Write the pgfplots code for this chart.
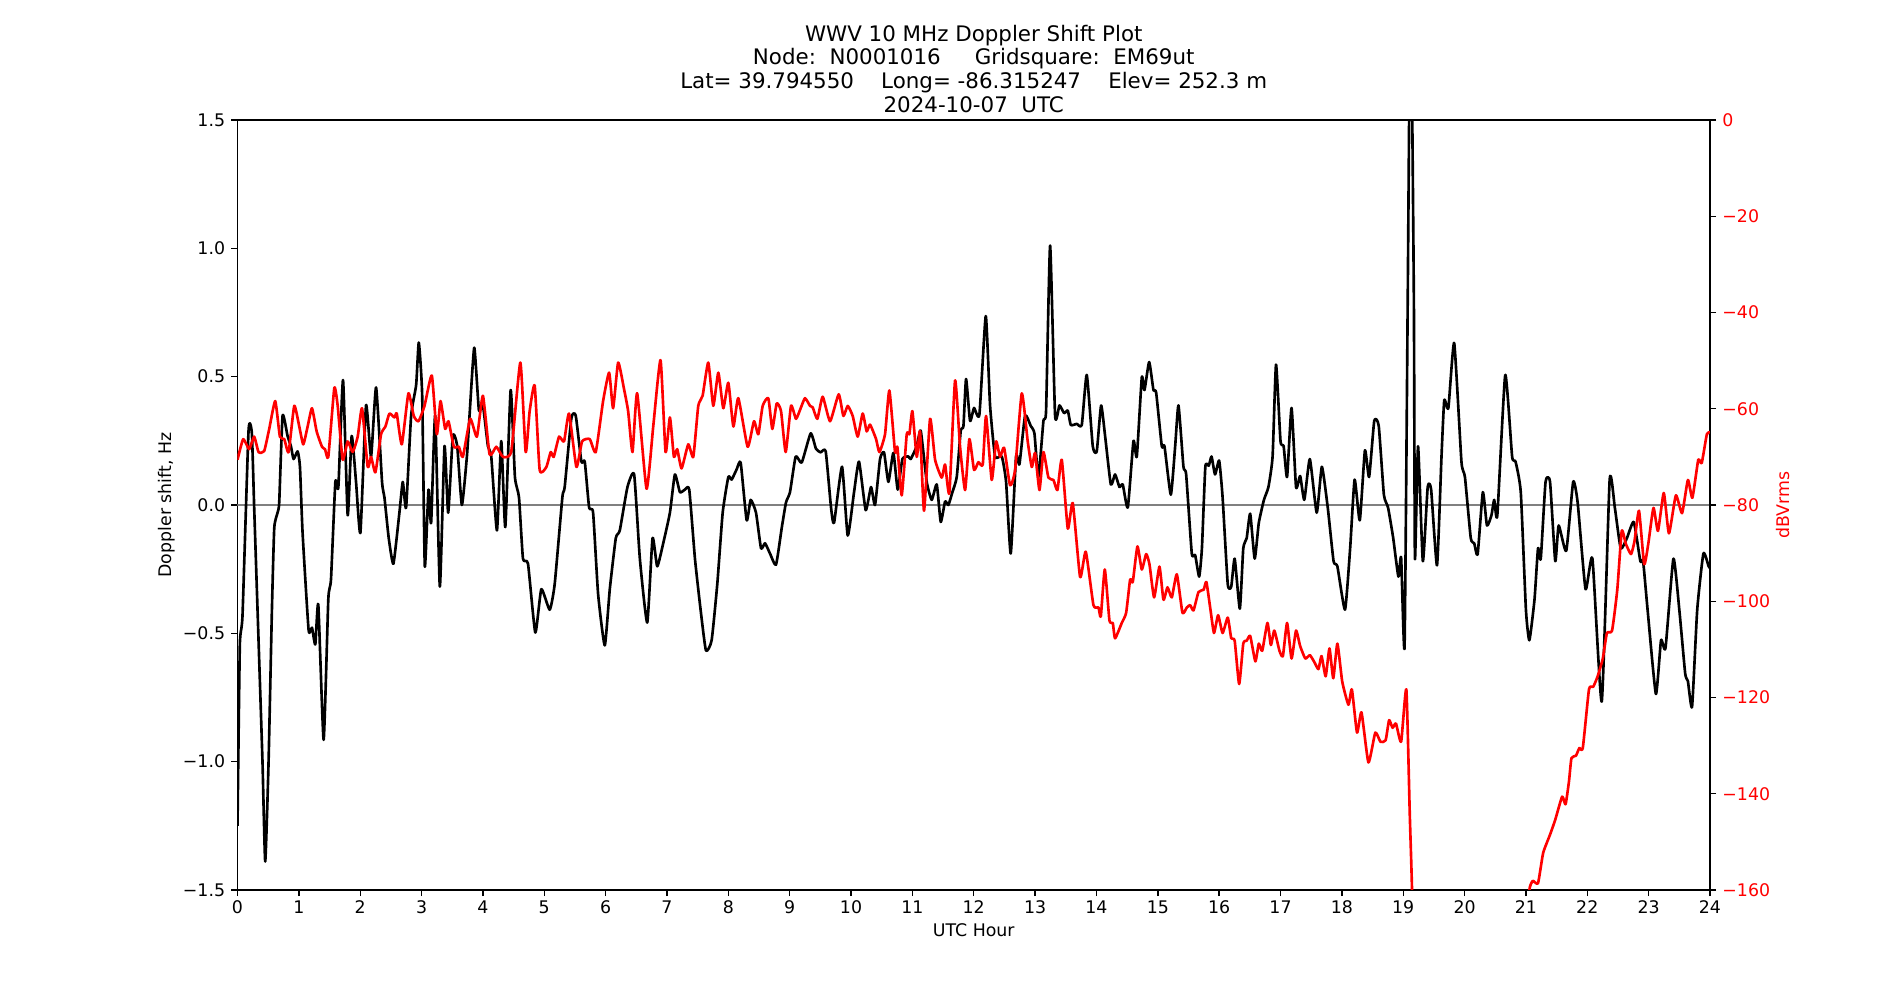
\documentclass[border=0pt]{standalone}
\usepackage{fontspec}
\setmainfont{DejaVu Sans}
\usepackage{pgfplots}
\usepackage{pgfplotstable}
\pgfplotsset{compat=1.18}

% Doppler shift (Hz) against UTC hour
\pgfplotstableread{
h v
0.000 -1.25
0.038 -0.547
0.082 -0.428
0.180 0.289
0.234 0.279
0.272 -0.010
0.354 -0.607
0.408 -1.005
0.452 -1.389
0.506 -1.005
0.561 -0.408
0.599 -0.090
0.653 -0.030
0.680 0.010
0.735 0.348
0.816 0.269
0.871 0.229
0.914 0.179
0.980 0.209
1.018 0.149
1.061 -0.109
1.159 -0.487
1.214 -0.478
1.268 -0.543
1.317 -0.388
1.404 -0.915
1.480 -0.368
1.524 -0.289
1.595 0.090
1.644 0.070
1.720 0.487
1.796 -0.040
1.861 0.269
1.932 0.090
2.003 -0.109
2.095 0.388
2.177 0.189
2.259 0.458
2.356 0.090
2.395 0.030
2.465 -0.129
2.541 -0.229
2.639 -0.030
2.694 0.090
2.748 -0.010
2.830 0.348
2.912 0.468
2.955 0.633
3.010 0.428
3.053 -0.239
3.113 0.060
3.156 -0.070
3.222 0.348
3.298 -0.318
3.374 0.229
3.434 -0.030
3.510 0.269
3.581 0.229
3.657 0.000
3.739 0.189
3.782 0.348
3.859 0.613
3.935 0.368
4.000 0.388
4.082 0.229
4.136 0.189
4.229 -0.099
4.299 0.249
4.365 -0.086
4.452 0.448
4.522 0.109
4.588 0.030
4.653 -0.209
4.735 -0.229
4.854 -0.497
4.952 -0.328
5.088 -0.408
5.170 -0.308
5.295 0.030
5.333 0.070
5.442 0.338
5.513 0.348
5.605 0.169
5.660 0.169
5.731 -0.010
5.796 -0.030
5.878 -0.348
5.986 -0.547
6.068 -0.328
6.166 -0.129
6.231 -0.099
6.356 0.070
6.465 0.119
6.558 -0.209
6.678 -0.458
6.765 -0.129
6.841 -0.239
6.939 -0.149
7.048 -0.030
7.129 0.119
7.211 0.050
7.293 0.060
7.363 0.060
7.456 -0.209
7.548 -0.408
7.635 -0.567
7.728 -0.527
7.820 -0.308
7.908 -0.030
8.000 0.109
8.054 0.099
8.136 0.139
8.201 0.165
8.299 -0.060
8.364 0.020
8.451 -0.030
8.533 -0.169
8.598 -0.149
8.679 -0.189
8.777 -0.233
8.870 -0.090
8.940 0.010
9.005 0.050
9.098 0.189
9.196 0.165
9.342 0.279
9.429 0.219
9.505 0.205
9.587 0.209
9.674 -0.010
9.723 -0.070
9.853 0.149
9.946 -0.119
10.049 0.050
10.130 0.169
10.239 -0.020
10.326 0.070
10.391 0.000
10.473 0.179
10.538 0.205
10.609 0.090
10.690 0.203
10.761 0.060
10.837 0.179
10.935 0.189
10.973 0.179
11.071 0.229
11.136 0.289
11.234 0.090
11.315 0.020
11.397 0.080
11.462 -0.066
11.533 0.014
11.587 0.000
11.652 0.050
11.723 0.109
11.788 0.289
11.832 0.308
11.875 0.491
11.940 0.328
12.005 0.378
12.092 0.352
12.196 0.736
12.266 0.388
12.348 0.189
12.457 0.189
12.527 0.090
12.603 -0.189
12.690 0.189
12.745 0.159
12.837 0.348
12.929 0.308
12.989 0.279
13.054 0.109
13.136 0.328
13.179 0.368
13.245 1.011
13.326 0.348
13.397 0.388
13.473 0.358
13.533 0.368
13.582 0.312
13.679 0.316
13.761 0.312
13.842 0.507
13.940 0.229
14.005 0.209
14.076 0.388
14.141 0.269
14.234 0.080
14.304 0.119
14.375 0.070
14.429 0.080
14.511 -0.010
14.603 0.249
14.658 0.189
14.739 0.497
14.783 0.448
14.859 0.557
14.929 0.448
14.973 0.438
15.065 0.229
15.109 0.229
15.212 0.040
15.283 0.229
15.337 0.388
15.418 0.149
15.462 0.119
15.554 -0.189
15.609 -0.195
15.674 -0.279
15.719 -0.169
15.775 0.149
15.831 0.153
15.876 0.189
15.933 0.119
16.000 0.173
16.056 0.030
16.140 -0.308
16.197 -0.318
16.253 -0.209
16.337 -0.404
16.393 -0.169
16.449 -0.129
16.506 -0.034
16.579 -0.209
16.646 -0.070
16.730 0.020
16.803 0.070
16.871 0.189
16.927 0.547
17.000 0.249
17.051 0.229
17.107 0.109
17.180 0.378
17.253 0.070
17.320 0.113
17.388 0.020
17.478 0.179
17.590 -0.030
17.674 0.149
17.770 -0.010
17.865 -0.219
17.927 -0.239
18.051 -0.408
18.135 -0.169
18.208 0.099
18.292 -0.060
18.376 0.213
18.444 0.109
18.528 0.328
18.601 0.308
18.685 0.040
18.753 -0.010
18.837 -0.129
18.921 -0.279
18.966 -0.205
19.022 -0.551
19.073 0.786
19.107 1.800
19.135 1.800
19.174 0.786
19.191 -0.209
19.242 0.229
19.320 -0.219
19.399 0.070
19.455 0.060
19.551 -0.235
19.624 0.189
19.669 0.408
19.736 0.378
19.831 0.631
19.949 0.169
20.006 0.109
20.101 -0.129
20.157 -0.149
20.213 -0.193
20.298 0.050
20.365 -0.080
20.438 -0.040
20.483 0.020
20.534 -0.040
20.663 0.507
20.775 0.189
20.831 0.169
20.916 0.050
21.000 -0.408
21.056 -0.527
21.140 -0.368
21.197 -0.169
21.242 -0.209
21.320 0.090
21.393 0.090
21.478 -0.219
21.534 -0.080
21.657 -0.179
21.770 0.090
21.843 0.010
21.972 -0.328
22.084 -0.209
22.236 -0.766
22.365 0.099
22.449 -0.010
22.545 -0.169
22.646 -0.129
22.758 -0.066
22.865 -0.219
22.910 -0.219
22.983 -0.408
23.118 -0.736
23.202 -0.527
23.275 -0.557
23.404 -0.209
23.500 -0.408
23.596 -0.657
23.640 -0.686
23.708 -0.786
23.792 -0.408
23.893 -0.189
23.978 -0.239
24.000 -0.245
}\doppler

% Received signal level (dBVrms) against UTC hour
\pgfplotstableread{
h db
0.000 -70.6
0.093 -66.3
0.190 -68.4
0.272 -65.8
0.343 -69.0
0.435 -68.8
0.517 -64.2
0.615 -58.4
0.691 -65.8
0.762 -66.3
0.833 -69.0
0.925 -59.4
1.007 -63.7
1.072 -67.4
1.143 -63.7
1.214 -59.9
1.290 -64.7
1.377 -67.9
1.426 -68.4
1.480 -70.0
1.578 -55.7
1.633 -59.4
1.714 -70.6
1.796 -66.8
1.878 -69.0
1.959 -65.8
2.030 -59.9
2.122 -72.1
2.177 -70.0
2.248 -73.2
2.340 -65.3
2.411 -63.7
2.476 -61.0
2.558 -61.8
2.596 -61.0
2.678 -67.4
2.786 -56.8
2.873 -61.5
2.950 -62.6
3.048 -59.4
3.167 -53.1
3.249 -65.3
3.309 -58.4
3.385 -64.2
3.439 -62.6
3.527 -67.9
3.608 -67.9
3.673 -70.0
3.793 -62.1
3.902 -65.8
4.000 -57.3
4.109 -69.5
4.218 -67.9
4.327 -70.0
4.463 -68.8
4.610 -50.4
4.697 -69.0
4.762 -60.5
4.844 -55.2
4.925 -72.7
5.034 -72.1
5.105 -69.0
5.154 -70.0
5.241 -65.8
5.322 -66.8
5.404 -61.0
5.524 -72.1
5.616 -66.8
5.741 -66.3
5.839 -69.0
5.959 -58.4
6.057 -52.5
6.122 -59.9
6.204 -50.4
6.297 -55.7
6.367 -60.5
6.438 -69.0
6.514 -56.8
6.667 -76.6
6.776 -63.7
6.895 -49.9
6.977 -69.0
7.048 -61.8
7.113 -70.0
7.167 -68.4
7.238 -72.4
7.347 -67.4
7.429 -70.0
7.510 -59.4
7.581 -57.3
7.673 -50.4
7.755 -59.4
7.837 -52.5
7.918 -59.9
8.000 -54.6
8.082 -63.7
8.163 -57.8
8.315 -67.9
8.418 -62.6
8.489 -65.3
8.560 -59.4
8.652 -57.8
8.717 -64.2
8.788 -58.9
8.859 -60.5
8.935 -69.0
9.022 -59.4
9.103 -62.1
9.179 -59.9
9.250 -57.8
9.332 -59.4
9.375 -59.7
9.451 -62.1
9.538 -57.5
9.658 -62.6
9.799 -57.0
9.875 -61.5
9.946 -59.4
10.027 -61.5
10.109 -65.8
10.190 -61.0
10.255 -64.7
10.310 -63.3
10.408 -66.3
10.462 -69.0
10.554 -65.3
10.625 -56.2
10.717 -69.0
10.755 -67.9
10.826 -78.0
10.908 -65.3
10.951 -65.3
11.000 -60.5
11.071 -70.0
11.125 -64.7
11.190 -81.2
11.288 -62.1
11.370 -70.6
11.478 -74.3
11.533 -71.6
11.603 -77.5
11.696 -54.1
11.777 -67.9
11.859 -76.9
11.929 -66.3
12.005 -72.7
12.076 -71.1
12.147 -71.6
12.201 -61.5
12.293 -74.8
12.364 -66.8
12.429 -70.0
12.495 -68.1
12.592 -75.9
12.674 -72.7
12.783 -56.8
12.880 -66.8
12.946 -72.1
13.000 -69.2
13.071 -76.9
13.136 -69.0
13.217 -74.3
13.299 -74.8
13.364 -76.9
13.435 -70.6
13.533 -84.9
13.614 -79.6
13.734 -95.0
13.826 -89.7
13.951 -100.8
14.033 -101.3
14.071 -103.2
14.136 -93.4
14.212 -104.0
14.266 -104.5
14.304 -107.7
14.413 -104.5
14.484 -102.4
14.549 -95.5
14.592 -96.0
14.668 -88.6
14.739 -93.4
14.810 -90.2
14.864 -92.3
14.940 -99.2
15.027 -92.8
15.092 -99.7
15.158 -97.1
15.228 -99.2
15.310 -94.4
15.402 -102.4
15.473 -101.3
15.527 -100.8
15.582 -101.9
15.663 -98.1
15.747 -97.6
15.792 -96.0
15.860 -101.9
15.916 -106.6
15.983 -102.9
16.056 -106.6
16.140 -103.4
16.197 -107.7
16.253 -108.2
16.326 -117.2
16.393 -108.8
16.449 -108.2
16.506 -107.2
16.590 -112.5
16.646 -108.8
16.702 -110.3
16.787 -104.5
16.843 -109.1
16.899 -106.1
16.983 -110.3
17.039 -111.4
17.107 -104.5
17.180 -111.9
17.253 -106.1
17.320 -109.3
17.404 -111.9
17.478 -111.2
17.545 -112.5
17.618 -114.1
17.669 -111.4
17.736 -115.6
17.798 -109.8
17.860 -116.0
17.927 -108.8
18.006 -116.7
18.107 -121.5
18.163 -118.3
18.247 -127.3
18.320 -123.1
18.433 -133.5
18.545 -127.3
18.629 -129.2
18.713 -128.9
18.770 -124.7
18.826 -126.3
18.882 -125.4
18.966 -129.2
19.051 -118.3
19.107 -144.3
19.146 -161.3
19.200 -200.0
20.950 -200.0
21.030 -170.0
21.056 -160.0
21.112 -158.1
21.197 -158.6
21.281 -152.3
21.393 -148.5
21.478 -145.4
21.590 -140.6
21.646 -142.2
21.702 -137.4
21.742 -132.6
21.815 -132.1
21.871 -130.5
21.927 -130.5
22.028 -118.3
22.096 -117.8
22.169 -115.6
22.253 -111.9
22.320 -106.6
22.404 -106.1
22.489 -97.6
22.562 -85.4
22.629 -88.1
22.713 -90.2
22.770 -87.5
22.843 -81.2
22.927 -92.3
22.994 -88.1
23.079 -80.6
23.152 -85.4
23.247 -77.5
23.331 -85.9
23.444 -78.0
23.545 -81.7
23.640 -74.8
23.713 -78.5
23.809 -70.6
23.865 -71.3
23.949 -65.3
24.000 -64.9
}\level

\definecolor{zeroline}{RGB}{128,128,128}

\pgfplotsset{
  frame/.style={
    scale only axis, width=1060.2pt, height=554.4pt,
    at={(0,0)}, anchor=south west,
    xmin=0, xmax=24,
    axis line style={line width=1pt, black},
    tick align=outside, major tick length=4.375pt,
    every tick/.style={line width=1pt, black},
    tick label style={font=\fontsize{12.5}{15}\selectfont},
    label style={font=\fontsize{12.5}{15}\selectfont},
  }
}

\begin{document}
\begin{tikzpicture}
\useasboundingbox (-171pt,-79.2pt) rectangle (1197pt,640.8pt);

\begin{axis}[
  frame, name=main,
  ymin=-1.5, ymax=1.5,
  xtick={0,1,...,24},
  xticklabels={0,1,2,3,4,5,6,7,8,9,10,11,12,13,14,15,16,17,18,19,20,21,22,23,24},
  ytick={-1.5,-1,-0.5,0,0.5,1,1.5},
  yticklabels={−1.5,−1.0,−0.5,0.0,0.5,1.0,1.5},
  xtick pos=left, ytick pos=left,
  xticklabel style={anchor=base, inner sep=0pt, yshift=-12.4pt},
  yticklabel style={anchor=base east, inner sep=0pt, xshift=-4.375pt, yshift=-4.56pt},
  xlabel={UTC Hour},
  xlabel style={at={(axis description cs:0.5,-0.0606)}, anchor=base},
  ylabel={Doppler shift, Hz},
  ylabel style={at={(axis description cs:-0.0448,0.5)}, anchor=base, rotate=0},
]
\addplot[zeroline, line width=0.9pt, forget plot] coordinates {(0,0) (24,0)};
\addplot[black, line width=1.9pt, line join=round, smooth, tension=0.3] table[x=h, y=v] {\doppler};
\end{axis}

\begin{axis}[
  frame,
  ymin=-160, ymax=0,
  axis x line=none,
  axis y line*=right,
  ytick={-160,-140,...,0},
  yticklabels={−160,−140,−120,−100,−80,−60,−40,−20,0},
  ytick pos=right, yticklabel pos=right,
  yticklabel style={red, anchor=base west, inner sep=0pt, xshift=4.375pt, yshift=-4.56pt},
  ylabel={dBVrms},
  ylabel style={red, at={(axis description cs:1.0543,0.5)}, anchor=base, rotate=0},
]
\addplot[red, line width=1.9pt, line join=round, smooth, tension=0.3] table[x=h, y=db] {\level};
\end{axis}

\begin{scope}[every node/.style={font=\fontsize{15.4}{18}\selectfont, anchor=base, inner sep=0pt}]
\node at ([yshift=56.4pt]main.north) {WWV 10 MHz Doppler Shift Plot};
\node at ([yshift=39.6pt]main.north) {Node:\ \ N0001016\ \ \ \ \ Gridsquare:\ \ EM69ut};
\node at ([yshift=22.8pt]main.north) {Lat=\ 39.794550\ \ \ \ Long=\ -86.315247\ \ \ \ Elev=\ 252.3 m};
\node at ([yshift=5.5pt]main.north) {2024-10-07\ \ UTC};
\end{scope}
\end{tikzpicture}
\end{document}
